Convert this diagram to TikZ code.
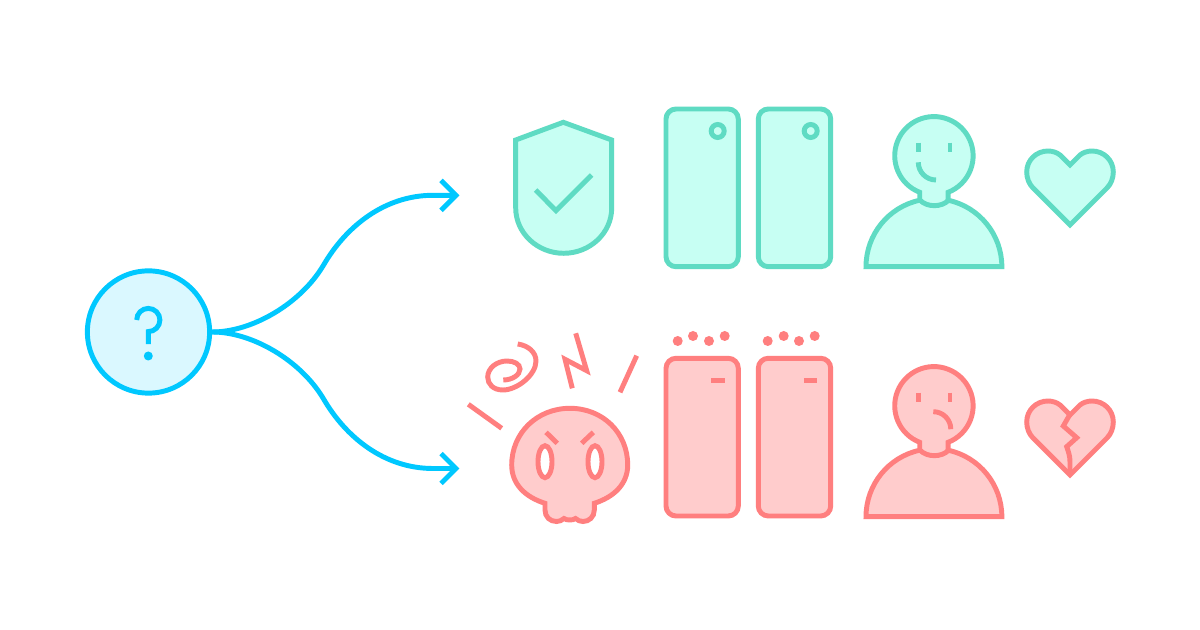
\documentclass[tikz,border=0pt]{standalone}
\definecolor{tealS}{HTML}{5FDBC3}
\definecolor{tealF}{HTML}{C7FFF3}
\definecolor{redS}{HTML}{FF7F7F}
\definecolor{redF}{HTML}{FFCCCC}
\definecolor{blueS}{HTML}{00C8FF}
\definecolor{blueF}{HTML}{DAF8FF}
\tikzset{
  lw/.style={line width=3.7pt},
  good/.style={lw,draw=tealS,fill=tealF},
  bad/.style={lw,draw=redS,fill=redF},
  goodline/.style={lw,draw=tealS},
  badline/.style={lw,draw=redS},
  flow/.style={lw,draw=blueS},
  door/.style={rounded corners=7.5pt},
  dotmark/.style={fill=redS,draw=none},
  startnode/.style={circle,lw,draw=blueS,fill=blueF,minimum size=91.7pt,inner sep=0pt},
}
\newcommand{\personshape}{%
  (866,266.7) arc[start angle=180,end angle=257.9,radius=68]
  -- ++(0,-7.9) arc[start angle=111.2,end angle=428.8,radius=39.2]
  -- ++(0,7.9) arc[start angle=282.1,end angle=360,radius=68] -- cycle}
\newcommand{\neckline}{(920,200.2) .. controls (927,207.5) and (941.6,207.5) .. (948.6,200.2)}
\newcommand{\heartshape}{%
  (1070,225) -- (1033,188) .. controls (1029,184) and (1026.7,178) .. (1026.7,172)
  .. controls (1026.7,160.2) and (1036.2,151) .. (1048,151)
  .. controls (1052.5,151) and (1057,152.5) .. (1060,155) -- (1070,165) -- (1080,155)
  .. controls (1083,152.5) and (1087.5,151) .. (1092,151)
  .. controls (1103.8,151) and (1113.3,160.2) .. (1113.3,172)
  .. controls (1113.3,178) and (1111,184) .. (1107,188) -- cycle}
\begin{document}
\begin{tikzpicture}[x=0.75pt,y=-0.75pt]
\useasboundingbox (0,0) rectangle (1200,630);
\fill[white] (0,0) rectangle (1200,630);

% connectors
\coordinate (upmid) at (323,266);
\coordinate (upend) at (456,195.3);
\coordinate (downmid) at (323,398);
\coordinate (downend) at (456,468.5);
\node[startnode] (q) at (148.5,332) {};
\draw[flow] (q.east) .. controls (252,332) and (300,304) .. (upmid)
  .. controls (346,226) and (385,195.3) .. (433,195.3) -- (upend);
\draw[flow] (q.east) .. controls (252,332) and (300,360) .. (downmid)
  .. controls (346,438) and (385,468.5) .. (433,468.5) -- (downend);
\draw[flow] (upend) ++(-15,-15) -- (upend) -- ++(-15,15);
\draw[flow] (downend) ++(-15,-15) -- (downend) -- ++(-15,15);

% question mark
\draw[flow] (136.7,320) arc[start angle=180,end angle=450,radius=11.6] -- ++(0,12.6);
\fill[blueS] (148.3,356) circle[radius=4.5];

% shield
\path[good] (563.3,122.3) -- (611.7,140) -- (611.7,208)
  .. controls (611.7,233) and (590,253.3) .. (563.7,253.3)
  .. controls (537.4,253.3) and (515.7,233) .. (515.7,208) -- (515.7,140) -- cycle;
\draw[goodline] (535.7,190) -- (556,210.7) -- (591.7,175);

% green doors
\path[good,door] (666,109) rectangle (738.3,266.7);
\path[good,door] (758.3,109) rectangle (830.7,266.7);
\path[goodline] (717.7,131) circle[radius=6.5];
\path[goodline] (810.7,131) circle[radius=6.5];

% happy person
\path[good] \personshape;
\draw[goodline] \neckline;
\draw[goodline] (918.3,142.7) -- (918.3,151.7);
\draw[goodline] (950,142.7) -- (950,151.7);
\draw[goodline] (918.3,162.3) arc[start angle=180,end angle=90,radius=17.7];

% heart
\path[good] \heartshape;

% skull
\path[bad] (545,503.3) .. controls (525,497) and (511.7,484) .. (511.7,465)
  .. controls (511.7,433) and (537,408.3) .. (570,408.3)
  .. controls (603,408.3) and (627.7,433) .. (627.7,465)
  .. controls (627.7,484) and (614,497) .. (594.3,503.3)
  -- (594.3,510) .. controls (594.3,517) and (589,521.5) .. (583,521.5)
  .. controls (580,521.5) and (578,520.5) .. (575.5,518.5)
  .. controls (573,520.5) and (566.5,520.5) .. (564,518.5)
  .. controls (561.5,520.5) and (559.5,521.5) .. (556.5,521.5)
  .. controls (550,521.5) and (545,517) .. (545,510) -- cycle;
\path[lw,draw=redS,fill=white] (545,461.7) ellipse[x radius=7,y radius=16];
\path[lw,draw=redS,fill=white] (595,461.7) ellipse[x radius=7,y radius=16];
\draw[badline] (546,432.3) -- (557.3,443.3);
\draw[badline] (593.3,432.3) -- (581.7,443.3);
\draw[badline] (468.3,404.3) -- (501.7,428.3);
\draw[badline] (636.7,355.7) -- (620,392.3);
\draw[badline] (575.7,333.3) -- (586.7,370.7) -- (565,359.3) -- (572.3,388.3);
\draw[badline] (517.7,344) .. controls (528,345.5) and (536,352) .. (536,361)
  .. controls (536,375) and (517,390) .. (503,390)
  .. controls (493,390) and (487.7,384) .. (487.7,377)
  .. controls (487.7,368) and (497,361) .. (507,361)
  .. controls (514,361) and (520,364) .. (520,369)
  .. controls (520,375) and (512,380) .. (503.3,380);

% red doors
\path[bad,door] (666,358.3) rectangle (738.3,516);
\path[bad,door] (758.3,358.3) rectangle (830.7,516);
\draw[badline] (711,380.3) -- (725,380.3);
\draw[badline] (804,380.3) -- (817.3,380.3);
\foreach \px/\py in {677.7/341,693/336,709/341,724.7/336,767.7/341,783.7/336,799/341,814.7/336}
  \path[dotmark] (\px,\py) circle[radius=5];

% sad person
\begin{scope}[yshift=-187.5pt]
\path[bad] \personshape;
\draw[badline] \neckline;
\draw[badline] (918.3,142.7) -- (918.3,151.7);
\draw[badline] (950,142.7) -- (950,151.7);
\draw[badline] (933.3,161.7) arc[start angle=270,end angle=360,radius=17.5];
\path[bad] \heartshape;
\draw[badline] (1070,164.3) -- (1063.3,176) -- (1076.7,187.7) -- (1066.7,196.7)
  .. controls (1068.5,202) and (1070,206) .. (1070,212) -- (1070,225);
\end{scope}
\end{tikzpicture}
\end{document}
